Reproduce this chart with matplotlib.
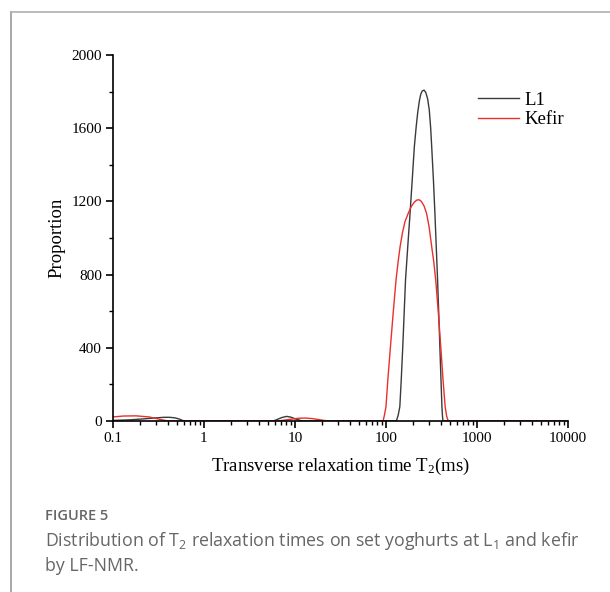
import matplotlib.pyplot as plt
from matplotlib.lines import Line2D
from matplotlib.ticker import MultipleLocator, LogLocator, NullFormatter, FixedLocator, FixedFormatter

plt.rcParams['mathtext.default'] = 'regular'

# T2 relaxation time (ms) and proportion
l1_t2 = [0.1, 0.15, 0.2, 0.3, 0.36, 0.42, 0.48, 0.54, 0.6, 1,
         5.8, 6.5, 7.2, 8.1, 9.0, 10, 12,
         50, 130, 136, 142, 147, 153, 164, 175, 184, 195, 205, 215, 223, 232, 241,
         250, 262, 274, 287, 299, 310, 318, 332, 345, 357, 369, 380, 391, 402, 412,
         418, 423, 1000, 10000]
l1_val = [3, 6, 10, 17, 20, 20, 17, 10, 0, 0,
          0, 10, 19, 25, 21, 12, 0,
          0, 0, 30, 78, 220, 406, 771, 980, 1136, 1330, 1499, 1610, 1683, 1745, 1785,
          1803, 1808, 1795, 1760, 1700, 1600, 1499, 1320, 1136, 950, 771, 590, 406, 230, 78,
          25, 0, 0, 0]

kefir_t2 = [0.1, 0.13, 0.18, 0.25, 0.32, 0.4, 1,
            6.5, 8, 9.5, 11, 13, 15.5, 18, 23,
            50, 93, 96, 100, 105, 112, 120, 129, 136, 143, 152, 162, 176, 190, 205,
            218, 231, 245, 262, 279, 298, 318, 335, 352, 375, 400, 423, 447, 465, 484,
            1000, 10000]
kefir_val = [22, 27, 28, 22, 10, 0, 0,
             0, 6, 11, 15, 16, 13, 8, 0,
             0, 0, 30, 78, 230, 406, 590, 771, 870, 953, 1030, 1090, 1136, 1172, 1196,
             1207, 1209, 1200, 1175, 1136, 1060, 953, 870, 771, 600, 406, 230, 78, 25, 0,
             0, 0]

x_ticks = [0.1, 1, 10, 100, 1000, 10000]
x_labels = ['0.1', '1', '10', '100', '1000', '10000']

serif = 'Liberation Serif'

fig = plt.figure(figsize=(6.10, 5.92), dpi=100)
ax = fig.add_axes([0.1852, 0.2889, 0.7459, 0.6182])

ax.plot(l1_t2, l1_val, color='#3a3a3a', linewidth=1.0, label='L1')
ax.plot(kefir_t2, kefir_val, color='#e8302c', linewidth=1.0, label='Kefir')

ax.set_xscale('log')
ax.set_xlim(0.1, 10000)
ax.set_ylim(0, 2000)

ax.xaxis.set_major_locator(FixedLocator(x_ticks))
ax.xaxis.set_major_formatter(FixedFormatter(x_labels))
ax.xaxis.set_minor_locator(LogLocator(base=10, subs=range(2, 10)))
ax.xaxis.set_minor_formatter(NullFormatter())
ax.yaxis.set_major_locator(MultipleLocator(400))
ax.yaxis.set_minor_locator(MultipleLocator(200))

for s in ['top', 'right']:
    ax.spines[s].set_visible(False)
for s in ['left', 'bottom']:
    ax.spines[s].set_linewidth(1.2)

ax.tick_params(which='major', direction='out', length=5, width=1.2, labelsize=11, pad=3)
ax.tick_params(which='minor', direction='out', length=3, width=1.0)
for lab in ax.get_xticklabels() + ax.get_yticklabels():
    lab.set_fontfamily(serif)

ax.set_xlabel('Transverse relaxation time T$_2$(ms)', fontfamily=serif, fontsize=13.5, labelpad=8)
ax.set_ylabel('Proportion', fontfamily=serif, fontsize=13.5, labelpad=4)

ax.legend(loc='upper right', bbox_to_anchor=(1.009, 0.921), frameon=False,
          prop={'family': serif, 'size': 13.5}, handlelength=2.2,
          handletextpad=0.3, labelspacing=0.15, borderaxespad=0)

# caption frame
fig.add_artist(Line2D([11 / 610, 11 / 610], [0, 1 - 12 / 592], color='#999999', linewidth=1.2))
fig.add_artist(Line2D([11 / 610, 1], [1 - 12 / 592, 1 - 12 / 592], color='#b0b0b0', linewidth=1.2))

cap = ['Open Sans', 'DejaVu Sans']
fig.text(45 / 610, 1 - 516 / 592, 'FIGURE 5', family=cap, fontsize=10.5, color='#666666',
         fontweight='semibold', va='center')
fig.text(45 / 610, 1 - 541 / 592, 'Distribution of T$_2$ relaxation times on set yoghurts at L$_1$ and kefir',
         family=cap, fontsize=12.75, color='#666666', va='center')
fig.text(45 / 610, 1 - 566 / 592, 'by LF-NMR.', family=cap, fontsize=12.75, color='#666666', va='center')

plt.savefig('out.png', dpi=100)
